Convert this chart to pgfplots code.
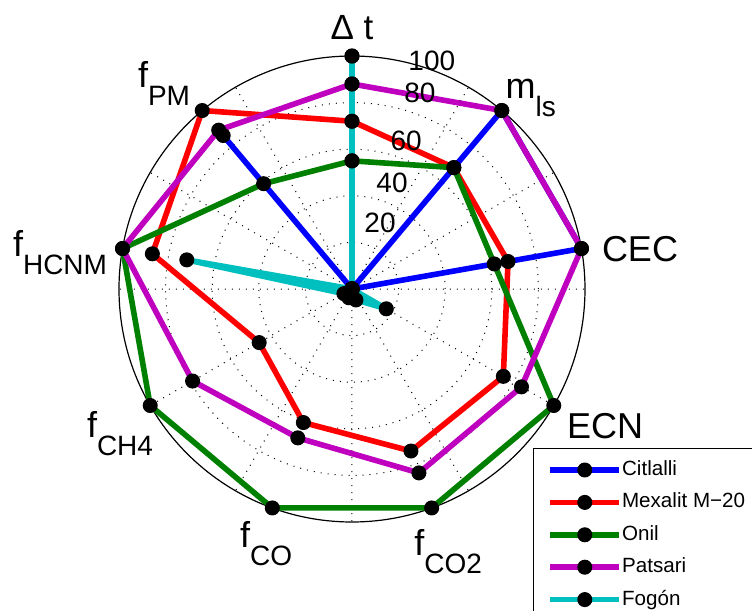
\documentclass[border=0pt]{standalone}
\usepackage{fontspec}
\setmainfont{Liberation Sans}
\usepackage{pgfplots}
\pgfplotsset{compat=1.18}
\usepgfplotslibrary{polar}
\definecolor{mblue}{RGB}{0,0,255}
\definecolor{mred}{RGB}{255,0,0}
\definecolor{mgreen}{RGB}{0,128,0}
\definecolor{mpurple}{RGB}{191,0,191}
\definecolor{mcyan}{RGB}{0,191,191}
\newcommand{\lab}[2]{\fontsize{18}{18}\selectfont #1\raisebox{-9pt}{\fontsize{14}{14}\selectfont #2}}
\begin{document}
\begin{tikzpicture}
\begin{polaraxis}[
  scale only axis, width=233pt, height=233pt,
  ymin=0, ymax=100,
  xtick={0,30,...,330}, ytick={20,40,60,80},
  xticklabels={}, yticklabels={},
  grid=major,
  major grid style={black, line width=0.5pt, dash pattern=on 0.5pt off 3pt},
  major tick length=0pt,
  separate axis lines,
  x axis line style={black, line width=0.6pt},
  y axis line style={draw=none},
  clip=false,
  every axis plot/.append style={line width=2.8pt, line join=round, mark=*, mark size=3.5pt, mark options={fill=black, draw=black, solid, line width=0.5pt}},
  legend style={at={(0.8884,0.1588)}, anchor=north west, draw=black, line width=0.5pt, fill=white,
    font=\fontsize{10.3}{10.3}\selectfont, inner xsep=7pt, inner ysep=5.5pt, row sep=5.7pt,
    nodes={inner sep=0pt, text height=8pt, text depth=2.5pt}},
  legend cell align=left,
  legend image code/.code={\draw[mark repeat=2,mark phase=2,#1] plot coordinates {(0pt,0pt) (17.25pt,0pt) (34.5pt,0pt)};},
]
% angles: Dt 90, mls 50, CEC 10, ECN -30, fCO2 -70, fCO -110, fCH4 -150, fHCNM 170, fPM 130
\addplot[mblue] coordinates {(90,0) (50,100) (10,100) (-30,0) (-70,0) (-110,0) (-150,0) (170,0) (130,86) (90,0)};
\addlegendentry{Citlalli}
\addplot[mred] coordinates {(90,72) (50,68) (10,68) (-30,75) (-70,74) (-110,61) (-150,46) (170,87) (130,100) (90,72)};
\addlegendentry{Mexalit M−20}
\addplot[mgreen] coordinates {(90,55) (50,68) (10,62) (-30,100) (-70,100) (-110,100) (-150,100) (170,100) (130,59) (90,55)};
\addlegendentry{Onil}
\addplot[mpurple] coordinates {(90,88) (50,100) (10,100) (-30,84) (-70,84) (-110,68) (-150,79) (170,100) (130,89) (90,88)};
\addlegendentry{Patsari}
\addplot[mcyan] coordinates {(90,100) (50,0) (10,0) (-30,17) (-70,5) (-110,4) (-150,4) (170,72) (130,0) (90,100)};
\addlegendentry{Fogón}
\coordinate (c) at (axis cs:0,0);
% radial tick labels
\node[font=\fontsize{14}{14}\selectfont] at (axis cs:67.0,30.8) {20};
\node[font=\fontsize{14}{14}\selectfont] at (axis cs:69.3,48.6) {40};
\node[font=\fontsize{14}{14}\selectfont] at (axis cs:69.9,67.6) {60};
\node[font=\fontsize{14}{14}\selectfont] at (axis cs:70.9,89.0) {80};
\node[font=\fontsize{14}{14}\selectfont] at (axis cs:70.7,103.7) {100};
% category labels
\node at (axis cs:90,112.4) {\fontsize{17.5}{17.5}\selectfont Δ t};
\node at (axis cs:46.9,112.3) {\lab{m}{ls}};
\node at (axis cs:7.9,124.8) {\fontsize{18}{18}\selectfont CEC};
\node at (axis cs:-28.4,123.5) {\fontsize{18}{18}\selectfont ECN};
\node at (axis cs:-69.9,120.2) {\lab{f}{CO2}};
\node at (axis cs:-108.6,115.5) {\lab{f}{CO}};
\node at (axis cs:-148,117.4) {\lab{f}{CH4}};
\node at (axis cs:172.8,126.3) {\lab{f}{HCNM}};
\node at (axis cs:132.5,119.4) {\lab{f}{PM}};
\end{polaraxis}
\pgfresetboundingbox
\path[use as bounding box] ([shift={(-176pt,-161pt)}]c) rectangle ([shift={(200pt,144.5pt)}]c);
\end{tikzpicture}
\end{document}
